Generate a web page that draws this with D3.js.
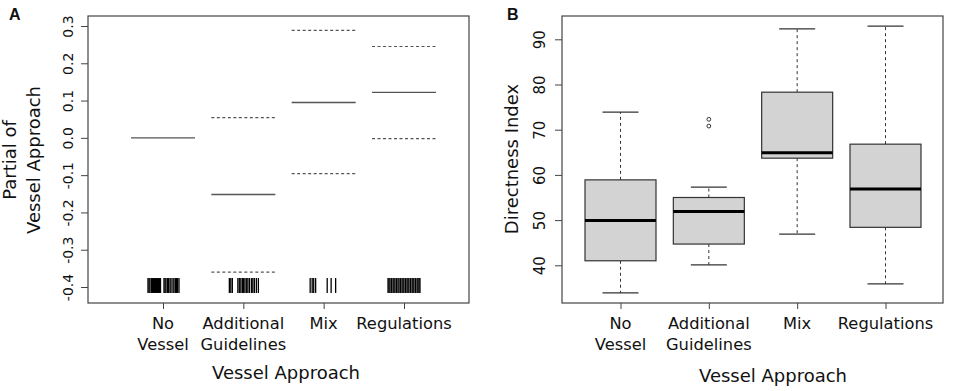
<!DOCTYPE html>
<meta charset="utf-8">
<script src="https://d3js.org/d3.v7.min.js"></script>
<style>
  body { margin: 0; background: #fff; }
  text { font-family: "DejaVu Sans", Verdana, sans-serif; fill: #111; }
</style>
<div id="my_dataviz"></div>
<script>

// categories (tick labels split into lines like the original)
var groups = ["No Vessel", "Additional Guidelines", "Mix", "Regulations"];
var groupLines = [["No", "Vessel"], ["Additional", "Guidelines"], ["Mix"], ["Regulations"]];

// panel A: partial effect of vessel approach with +/- 2 SE (reference level has no band)
var partialFit = [0.0, -0.152, 0.095, 0.122];
var partialUpper = [null, 0.054, 0.288, 0.245];
var partialLower = [null, -0.360, -0.096, -0.002];
var ticksA = [-0.4, -0.3, -0.2, -0.1, 0.0, 0.1, 0.2, 0.3];

// rug of jittered factor positions (1..4)
var rugValues = [
  0.813, 0.826, 0.838, 0.857, 0.869, 0.882, 0.894, 0.907, 0.919, 0.932, 0.944, 0.956, 0.969,
  1.012, 1.025, 1.037, 1.056, 1.068, 1.087, 1.100, 1.124, 1.137, 1.156, 1.168, 1.181, 1.199,
  1.826, 1.844, 1.863, 1.932, 1.950, 1.969, 1.988, 2.000, 2.019, 2.037, 2.056, 2.075, 2.100,
  2.118, 2.137, 2.162, 2.187,
  2.832, 2.857, 2.876, 2.900, 3.044, 3.093, 3.149,
  3.801, 3.813, 3.826, 3.844, 3.863, 3.875, 3.888, 3.907, 3.925, 3.938, 3.956, 3.975, 3.988,
  4.000, 4.019, 4.037, 4.050, 4.062, 4.081, 4.100, 4.112, 4.124, 4.143, 4.162, 4.174, 4.187, 4.199
];

// panel B: boxplot of directness index
var boxMin    = [33.9, 40.1, 46.9, 35.9];
var boxQ1     = [41.0, 44.7, 63.7, 48.4];
var boxMedian = [49.9, 51.9, 64.9, 56.9];
var boxQ3     = [58.9, 55.0, 78.3, 66.8];
var boxMax    = [73.9, 57.3, 92.3, 92.9];
var outlierGroup = ["Additional Guidelines", "Additional Guidelines"];
var outlierValue = [72.3, 70.8];
var ticksB = [40, 50, 60, 70, 80, 90];

var svg = d3.select("#my_dataviz")
  .append("svg")
    .attr("width", 957)
    .attr("height", 391);

var axisColor = "#444";

// ---------- Panel A ----------
var frameA = {left: 88, right: 469, top: 16, bottom: 303};

var xA = d3.scalePoint()
  .domain(groups)
  .range([163, 404]);
var xRug = d3.scaleLinear()
  .domain([1, 4])
  .range([163, 404]);
var yA = d3.scaleLinear()
  .domain([-0.4, 0.3])
  .range([287, 26]);

svg.append("rect")
  .attr("x", frameA.left).attr("y", frameA.top)
  .attr("width", frameA.right - frameA.left)
  .attr("height", frameA.bottom - frameA.top)
  .attr("fill", "none").attr("stroke", axisColor).attr("stroke-width", 1.2);

// y axis
var gyA = svg.append("g")
  .attr("transform", "translate(" + frameA.left + ",0)")
  .call(d3.axisLeft(yA).tickValues(ticksA).tickSize(7));
gyA.select(".domain").remove();
gyA.selectAll("line").attr("stroke", axisColor);
gyA.selectAll("text")
  .attr("x", 0).attr("dy", null)
  .attr("transform", "translate(-20,0) rotate(-90)")
  .style("text-anchor", "middle")
  .attr("dominant-baseline", "central")
  .style("font-size", "14px")
  .text(function(d) { return d.toFixed(1); });

// x axis
var gxA = svg.append("g")
  .attr("transform", "translate(0," + frameA.bottom + ")")
  .call(d3.axisBottom(xA).tickSize(6).tickFormat(""));
gxA.select(".domain").remove();
gxA.selectAll("line").attr("stroke", axisColor);

function addXLabels(xScale, labelY, titleX, titleY) {
  groups.forEach(function(g, i) {
    var t = svg.append("text")
      .attr("x", xScale(g))
      .attr("y", labelY)
      .style("text-anchor", "middle")
      .style("font-size", "16.3px");
    groupLines[i].forEach(function(line, j) {
      t.append("tspan")
        .attr("x", xScale(g))
        .attr("dy", j === 0 ? 0 : 20.5)
        .text(line);
    });
  });
  svg.append("text")
    .attr("x", titleX).attr("y", titleY)
    .style("text-anchor", "middle")
    .style("font-size", "18px")
    .text("Vessel Approach");
}
addXLabels(xA, 329, 286, 379);

// y title (two lines)
svg.append("text")
  .attr("transform", "translate(16,160) rotate(-90)")
  .style("text-anchor", "middle")
  .style("font-size", "18px")
  .text("Partial of");
svg.append("text")
  .attr("transform", "translate(40,160) rotate(-90)")
  .style("text-anchor", "middle")
  .style("font-size", "18px")
  .text("Vessel Approach");

svg.append("text")
  .attr("x", 9).attr("y", 20)
  .style("font-family", "Liberation Sans, Arial, sans-serif")
  .style("font-weight", "bold")
  .style("font-size", "16px")
  .text("A");

var halfA = 32;
// fitted effect
svg.selectAll("fitline")
  .data(groups)
  .enter()
  .append("line")
    .attr("x1", function(d) { return xA(d) - halfA; })
    .attr("x2", function(d) { return xA(d) + halfA; })
    .attr("y1", function(d, i) { return yA(partialFit[i]); })
    .attr("y2", function(d, i) { return yA(partialFit[i]); })
    .attr("stroke", "#555")
    .attr("stroke-width", 1.4);

// confidence bands
[partialUpper, partialLower].forEach(function(arr) {
  svg.selectAll("seline")
    .data(groups.filter(function(d, i) { return arr[i] !== null; }))
    .enter()
    .append("line")
      .attr("x1", function(d) { return xA(d) - halfA; })
      .attr("x2", function(d) { return xA(d) + halfA; })
      .attr("y1", function(d) { return yA(arr[groups.indexOf(d)]); })
      .attr("y2", function(d) { return yA(arr[groups.indexOf(d)]); })
      .attr("stroke", "#555")
      .attr("stroke-width", 1.2)
      .attr("stroke-dasharray", "3,2.5");
});

// rug
svg.selectAll("rugline")
  .data(rugValues)
  .enter()
  .append("line")
    .attr("x1", function(d) { return xRug(d); })
    .attr("x2", function(d) { return xRug(d); })
    .attr("y1", yA(-0.376))
    .attr("y2", yA(-0.416))
    .attr("stroke", "#000")
    .attr("stroke-width", 1.3);

// ---------- Panel B ----------
var frameB = {left: 562, right: 943, top: 16, bottom: 303};

var xB = d3.scalePoint()
  .domain(groups)
  .range([620.5, 885.5]);
var yB = d3.scaleLinear()
  .domain([40, 90])
  .range([265.3, 39.3]);

svg.append("rect")
  .attr("x", frameB.left).attr("y", frameB.top)
  .attr("width", frameB.right - frameB.left)
  .attr("height", frameB.bottom - frameB.top)
  .attr("fill", "none").attr("stroke", axisColor).attr("stroke-width", 1.2);

var gyB = svg.append("g")
  .attr("transform", "translate(" + frameB.left + ",0)")
  .call(d3.axisLeft(yB).tickValues(ticksB).tickSize(7));
gyB.select(".domain").remove();
gyB.selectAll("line").attr("stroke", axisColor);
gyB.selectAll("text")
  .attr("x", 0).attr("dy", null)
  .attr("transform", "translate(-22,0) rotate(-90)")
  .style("text-anchor", "middle")
  .attr("dominant-baseline", "central")
  .style("font-size", "15px");

var gxB = svg.append("g")
  .attr("transform", "translate(0," + frameB.bottom + ")")
  .call(d3.axisBottom(xB).tickSize(6).tickFormat(""));
gxB.select(".domain").remove();
gxB.selectAll("line").attr("stroke", axisColor);

addXLabels(xB, 329, 773, 382);

svg.append("text")
  .attr("transform", "translate(511,159) rotate(-90)")
  .style("text-anchor", "middle")
  .attr("dominant-baseline", "central")
  .style("font-size", "18px")
  .text("Directness Index");

svg.append("text")
  .attr("x", 507).attr("y", 20)
  .style("font-family", "Liberation Sans, Arial, sans-serif")
  .style("font-weight", "bold")
  .style("font-size", "16px")
  .text("B");

var boxW = 71, capW = 36;

// whiskers
[[boxQ3, boxMax], [boxQ1, boxMin]].forEach(function(pair) {
  svg.selectAll("whisker")
    .data(groups)
    .enter()
    .append("line")
      .attr("x1", function(d) { return xB(d); })
      .attr("x2", function(d) { return xB(d); })
      .attr("y1", function(d, i) { return yB(pair[0][i]); })
      .attr("y2", function(d, i) { return yB(pair[1][i]); })
      .attr("stroke", "#333").attr("stroke-dasharray", "3,3");
});

// caps
[boxMin, boxMax].forEach(function(arr) {
  svg.selectAll("cap")
    .data(groups)
    .enter()
    .append("line")
      .attr("x1", function(d) { return xB(d) - capW / 2; })
      .attr("x2", function(d) { return xB(d) + capW / 2; })
      .attr("y1", function(d, i) { return yB(arr[i]); })
      .attr("y2", function(d, i) { return yB(arr[i]); })
      .attr("stroke", "#333").attr("stroke-width", 1.2);
});

// boxes
svg.selectAll("box")
  .data(groups)
  .enter()
  .append("rect")
    .attr("x", function(d) { return xB(d) - boxW / 2; })
    .attr("y", function(d, i) { return yB(boxQ3[i]); })
    .attr("width", boxW)
    .attr("height", function(d, i) { return yB(boxQ1[i]) - yB(boxQ3[i]); })
    .attr("fill", "#d3d3d3")
    .attr("stroke", "#333")
    .attr("stroke-width", 1.2);

// medians
svg.selectAll("median")
  .data(groups)
  .enter()
  .append("line")
    .attr("x1", function(d) { return xB(d) - boxW / 2; })
    .attr("x2", function(d) { return xB(d) + boxW / 2; })
    .attr("y1", function(d, i) { return yB(boxMedian[i]); })
    .attr("y2", function(d, i) { return yB(boxMedian[i]); })
    .attr("stroke", "#000")
    .attr("stroke-width", 3);

// outliers
svg.selectAll("outlier")
  .data(outlierValue)
  .enter()
  .append("circle")
    .attr("cx", function(d, i) { return xB(outlierGroup[i]); })
    .attr("cy", function(d) { return yB(d); })
    .attr("r", 1.9)
    .attr("fill", "none")
    .attr("stroke", "#333")
    .attr("stroke-width", 1);

</script>
